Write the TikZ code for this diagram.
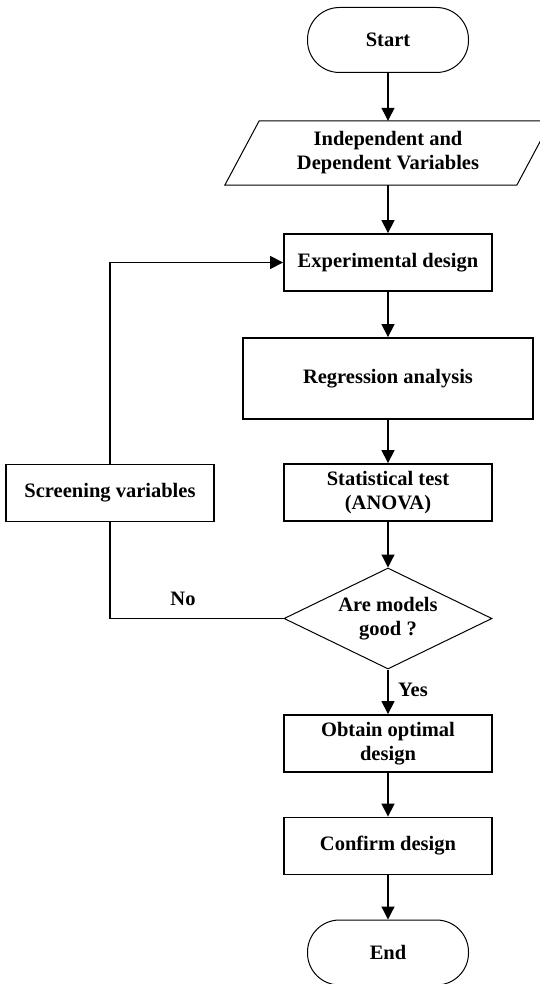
\documentclass[tikz,border=0pt]{standalone}
\usepackage{fontspec}
\setmainfont{Liberation Serif}
\usetikzlibrary{arrows.meta,shapes.geometric,calc}
\tikzset{
  base/.style={font=\bfseries\fontsize{20.5}{24}\selectfont, align=center, inner sep=0pt},
  box/.style={base, draw, line width=1.8pt, minimum width=208pt, minimum height=57pt},
  term/.style={base, draw, line width=1pt, rounded corners=32pt, minimum width=161pt, minimum height=65pt},
  dec/.style={base, draw, diamond, line width=1pt, aspect=2.06, minimum width=208pt, minimum height=101pt},
  conn/.style={line width=1.2pt},
  arr/.style={conn, -{Triangle[length=13pt,width=13pt]}},
  lbl/.style={base}
}
\begin{document}
\begin{tikzpicture}[x=1pt,y=-1pt]
\useasboundingbox (0,0) rectangle (540,984);
\node[term] (start) at (388,40) {Start};
\node[base, minimum width=326pt, minimum height=64pt] (para) at (388,153) {Independent and\\Dependent Variables};
\draw[line width=1pt] (para.south west) -- ++(292,0) -- (para.north east) -- ++(-292,0) -- cycle;
\node[box] (exp) at (388,262.5) {Experimental design};
\node[box, minimum width=290pt, minimum height=81pt] (reg) at (388,378.5) {Regression analysis};
\node[box] (stat) at (388,492.5) {Statistical test\\(ANOVA)};
\node[dec] (dia) at (388,618.5) {Are models\\good ?};
\node[box] (opt) at (388,743.5) {Obtain optimal\\design};
\node[box] (conf) at (388,846) {Confirm design};
\node[term] (end) at (388,952.5) {End};
\node[box] (scr) at (110,493) {Screening variables};
\node[lbl] (no) at (183,599) {No};
\node[lbl] (yes) at (413,690) {Yes};

\draw[arr] (start) -- (para.north);
\draw[arr] (para.south) -- (exp);
\draw[arr] (exp) -- (reg);
\draw[arr] (reg) -- (stat);
\draw[arr] (stat) -- (dia);
\draw[arr] (dia) -- (opt);
\draw[arr] (opt) -- (conf);
\draw[arr] (conf) -- (end);
\draw[conn] (dia.west) -| (scr.south);
\draw[arr] (scr.north) |- (exp.west);
\end{tikzpicture}
\end{document}
